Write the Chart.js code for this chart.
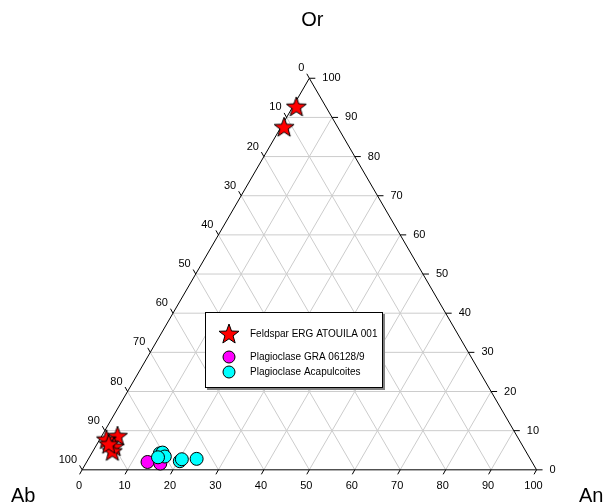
<!DOCTYPE html>
<html>
<head>
<meta charset="utf-8">
<script src="https://cdn.jsdelivr.net/npm/chart.js@4/dist/chart.umd.min.js"></script>
<style>
  body { margin: 0; background: #fff; }
  #wrap { position: relative; width: 605px; height: 504px; }
</style>
</head>
<body>
<div id="wrap"><canvas id="ternary-ctx"></canvas></div>
<script>
// DATA - compositions in percent
const TICKS = [0, 10, 20, 30, 40, 50, 60, 70, 80, 90, 100];
const AXIS_NAMES = ['Ab', 'An', 'Or'];

const feldsparAb = [6.5, 11.8, 87.9, 90.8, 90.0, 91.0, 90.9];
const feldsparAn = [0.8, 0.7, 3.5, 1.5, 4.1, 4.3, 2.6];
const feldsparOr = [92.7, 87.5, 8.6, 7.7, 5.9, 4.7, 6.5];

const graAb = [84.6, 82.0];
const graAn = [13.4, 16.4];
const graOr = [2.0, 1.6];

const acaAb = [80.8, 80.1, 80.1, 81.7, 77.4, 76.7, 73.4];
const acaAn = [15.0, 15.5, 16.5, 15.1, 20.4, 20.6, 23.8];
const acaOr = [4.2, 4.4, 3.4, 3.2, 2.2, 2.7, 2.8];

const LABELS = ['Feldspar ERG ATOUILA 001', 'Plagioclase GRA 06128/9', 'Plagioclase Acapulcoites'];

// ternary -> cartesian (Ab bottom left, An bottom right, Or top)
const H = Math.sqrt(3) / 2;
const toXY = (ab, an, or) => {
  const s = ab + an + or;
  return {x: 100 * (an + or / 2) / s, y: 100 * or * H / s};
};
const series = (ab, an, or) => ab.map((v, i) => toXY(v, an[i], or[i]));

// filled star used as point style
const makeStar = () => {
  const c = document.createElement('canvas');
  c.width = 24; c.height = 24;
  const g = c.getContext('2d');
  g.beginPath();
  for (let i = 0; i < 10; i++) {
    const r = (i % 2 === 0) ? 10.5 : 4.3;
    const a = -Math.PI / 2 + i * Math.PI / 5;
    const px = 12 + r * Math.cos(a), py = 12.5 + r * Math.sin(a);
    if (i === 0) g.moveTo(px, py); else g.lineTo(px, py);
  }
  g.closePath();
  g.fillStyle = '#ff0000';
  g.fill();
  g.strokeStyle = '#000';
  g.lineWidth = 1;
  g.stroke();
  return c;
};
const STAR = makeStar();

// pixel frame: px per percent, Ab vertex position
const PX = 4.66, X0 = 76.5, Y0 = 476.5, W = 605, HGT = 504;

const ternaryFrame = {
  id: 'ternaryFrame',
  beforeDatasetsDraw(chart) {
    const {ctx, scales: {x, y}} = chart;
    const P = (ab, an, or) => {
      const p = toXY(ab, an, or);
      return [x.getPixelForValue(p.x), y.getPixelForValue(p.y)];
    };
    const seg = (a, b) => {
      ctx.beginPath();
      ctx.moveTo(a[0], a[1]);
      ctx.lineTo(b[0], b[1]);
      ctx.stroke();
    };
    ctx.save();
    // grid
    ctx.strokeStyle = '#cccccc';
    ctx.lineWidth = 1;
    TICKS.slice(1, -1).forEach(t => {
      seg(P(100 - t, 0, t), P(0, 100 - t, t));   // const Or
      seg(P(100 - t, t, 0), P(0, t, 100 - t));   // const An
      seg(P(t, 100 - t, 0), P(t, 0, 100 - t));   // const Ab
    });
    // axes
    ctx.strokeStyle = '#000';
    const A = P(100, 0, 0), B = P(0, 100, 0), C = P(0, 0, 100);
    ctx.beginPath();
    ctx.moveTo(A[0], A[1]); ctx.lineTo(B[0], B[1]); ctx.lineTo(C[0], C[1]); ctx.closePath();
    ctx.stroke();

    ctx.fillStyle = '#000';
    ctx.font = '11px "Liberation Sans", Arial, sans-serif';
    TICKS.forEach(t => {
      // bottom: An
      let p = P(100 - t, t, 0);
      seg(p, [p[0] - 2.5, p[1] + 4.5]);
      ctx.textAlign = 'center'; ctx.textBaseline = 'middle';
      ctx.fillText(String(t), p[0] - 3, p[1] + 16);
      // right: Or
      p = P(0, 100 - t, t);
      seg(p, [p[0] + 6, p[1]]);
      ctx.textAlign = 'left';
      ctx.fillText(String(t), p[0] + 13, p[1]);
      // left: Ab
      p = P(t, 0, 100 - t);
      seg(p, [p[0] - 2.5, p[1] - 4.5]);
      ctx.textAlign = 'right';
      ctx.fillText(String(t), p[0] - 5, p[1] - 10);
    });

    // axis titles
    ctx.font = '20px "Liberation Sans", Arial, sans-serif';
    ctx.textBaseline = 'alphabetic';
    ctx.textAlign = 'left';
    ctx.fillText(AXIS_NAMES[0], 11, 502);
    ctx.fillText(AXIS_NAMES[1], 579, 502);
    ctx.textAlign = 'center';
    ctx.fillText(AXIS_NAMES[2], C[0] + 3, 26);
    ctx.restore();
  },
  afterDatasetsDraw(chart) {
    const {ctx} = chart;
    ctx.save();
    // legend box
    ctx.fillStyle = '#808080';
    ctx.fillRect(207, 314, 178, 76);
    ctx.fillStyle = '#fff';
    ctx.fillRect(205, 312, 178, 76);
    ctx.strokeStyle = '#000';
    ctx.lineWidth = 1;
    ctx.strokeRect(205.5, 312.5, 177, 75);

    ctx.drawImage(STAR, 229 - 12, 334 - 12);
    const dot = (cx, cy, col) => {
      ctx.beginPath();
      ctx.arc(cx, cy, 6, 0, Math.PI * 2);
      ctx.fillStyle = col;
      ctx.fill();
      ctx.strokeStyle = '#000';
      ctx.stroke();
    };
    dot(229, 357, '#ff00ff');
    dot(229, 372, '#00ffff');

    ctx.fillStyle = '#000';
    ctx.font = '10px "Liberation Sans", Arial, sans-serif';
    ctx.textAlign = 'left';
    ctx.textBaseline = 'middle';
    ctx.fillText(LABELS[0], 250, 334);
    ctx.fillText(LABELS[1], 250, 357);
    ctx.fillText(LABELS[2], 250, 372);
    ctx.restore();
  }
};

new Chart(document.getElementById('ternary-ctx'), {
  type: 'scatter',
  data: {
    datasets: [{
      label: LABELS[0],
      data: series(feldsparAb, feldsparAn, feldsparOr),
      pointStyle: STAR,
      order: 0
    }, {
      label: LABELS[1],
      data: series(graAb, graAn, graOr),
      pointRadius: 6.5,
      backgroundColor: '#ff00ff',
      borderColor: '#000',
      borderWidth: 1,
      order: 2
    }, {
      label: LABELS[2],
      data: series(acaAb, acaAn, acaOr),
      pointRadius: 6.5,
      backgroundColor: '#00ffff',
      borderColor: '#000',
      borderWidth: 1,
      order: 1
    }]
  },
  options: {
    responsive: true,
    maintainAspectRatio: false,
    animation: false,
    layout: { padding: 0 },
    scales: {
      x: { type: 'linear', display: false, min: -X0 / PX, max: (W - X0) / PX },
      y: { type: 'linear', display: false, min: -(HGT - Y0) / PX, max: Y0 / PX }
    },
    plugins: {
      legend: { display: false },
      tooltip: { enabled: false }
    },
    clip: false
  },
  plugins: [ternaryFrame]
});
</script>
</body>
</html>
